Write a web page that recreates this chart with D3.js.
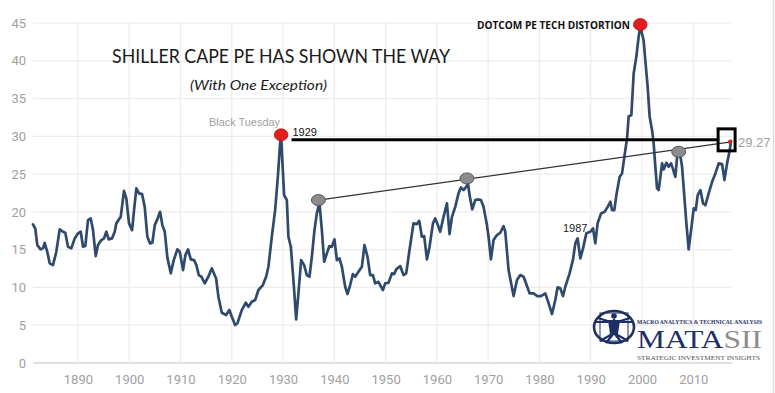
<!DOCTYPE html>
<html><head><meta charset="utf-8">
<script src="https://cdn.jsdelivr.net/npm/d3@7"></script>
<style>body{margin:0;background:#fff}svg{display:block}</style>
</head><body>
<svg id="c" width="775" height="393"></svg>
<script>
const capeYears = [1881.24,1881.69,1882.08,1882.74,1883.19,1883.52,1884.03,1884.50,1885.14,1885.79,1886.45,1887.09,1887.54,1888.07,1888.71,1889.38,1890.02,1890.55,1891.00,1891.44,1891.97,1892.50,1892.95,1893.47,1893.92,1894.57,1895.09,1895.54,1896.01,1896.65,1897.18,1897.49,1898.35,1898.99,1899.44,1899.97,1900.56,1900.95,1901.40,1901.92,1902.51,1903.03,1903.54,1904.07,1904.52,1904.99,1905.49,1906.02,1906.47,1906.94,1907.44,1908.11,1908.69,1909.40,1909.86,1910.51,1910.96,1911.48,1912.01,1912.65,1913.10,1913.57,1914.08,1914.74,1915.44,1916.11,1916.95,1917.40,1918.06,1918.90,1919.54,1920.01,1920.65,1921.10,1921.96,1922.74,1923.25,1923.91,1924.56,1925.20,1926.06,1926.70,1927.15,1927.81,1928.46,1928.99,1929.43,1929.63,1929.96,1930.21,1930.74,1931.05,1931.52,1932.03,1932.56,1933.00,1933.53,1934.12,1934.64,1935.15,1935.62,1936.13,1936.59,1937.10,1937.57,1938.02,1938.55,1939.05,1939.52,1940.03,1940.50,1941.00,1941.47,1942.12,1942.57,1943.09,1943.62,1944.07,1944.71,1945.38,1945.88,1946.47,1946.99,1947.52,1947.97,1948.61,1949.47,1949.92,1950.57,1951.23,1951.68,1952.07,1952.85,1953.49,1954.02,1954.66,1955.44,1956.11,1956.56,1957.08,1957.53,1958.06,1958.57,1959.23,1959.68,1960.32,1960.65,1961.30,1961.96,1962.47,1962.94,1963.58,1964.22,1964.69,1965.20,1965.73,1966.06,1966.37,1966.90,1967.48,1967.93,1968.59,1969.10,1969.76,1970.08,1970.54,1971.05,1971.71,1972.36,1973.00,1973.34,1973.98,1974.96,1975.62,1976.26,1976.91,1977.57,1978.08,1978.86,1979.52,1980.30,1981.14,1981.79,1982.45,1983.09,1983.54,1984.07,1984.59,1985.04,1985.88,1986.55,1987.00,1987.44,1987.97,1988.50,1989.14,1989.92,1990.45,1990.89,1991.34,1992.01,1992.71,1993.30,1993.82,1994.16,1994.60,1995.00,1995.64,1996.11,1996.56,1997.08,1997.40,1997.92,1998.37,1998.89,1999.34,1999.67,2000.00,2000.31,2000.64,2001.10,2001.49,2001.96,2002.27,2002.60,2002.93,2003.25,2003.58,2003.91,2004.22,2004.75,2005.20,2005.67,2006.06,2006.50,2006.84,2007.35,2007.81,2008.26,2008.65,2009.10,2009.57,2010.08,2010.47,2010.86,2011.39,2011.91,2012.36,2013.00,2013.67,2014.31,2014.96,2015.62,2016.07,2016.59,2017.10,2017.37];
const capeValues = [18.35,17.80,15.61,15.04,15.17,15.91,14.72,13.19,12.96,14.72,17.69,17.37,17.24,15.38,15.17,16.49,17.16,17.37,15.38,15.48,18.92,19.14,17.59,14.15,15.61,16.27,16.49,17.37,16.36,16.49,17.37,18.48,19.35,22.79,21.79,18.48,17.59,20.24,23.11,22.45,22.35,20.67,16.71,15.83,15.91,18.25,19.01,20.01,18.25,17.37,13.98,11.87,13.62,15.04,14.72,12.30,14.29,15.04,13.72,13.62,12.96,11.64,11.42,10.54,11.42,12.53,11.19,8.77,6.65,6.35,7.01,6.12,5.03,5.25,7.01,7.98,7.45,8.11,8.33,9.66,10.32,11.42,12.74,16.71,20.24,24.64,29.06,30.03,25.53,22.22,21.56,16.71,15.38,10.98,5.78,9.22,13.62,12.96,11.64,11.42,14.06,17.59,19.80,21.20,17.59,13.40,14.51,15.48,15.38,16.36,13.62,13.85,12.74,10.09,9.13,10.32,11.77,11.42,12.08,12.74,15.61,14.06,11.64,11.64,10.54,10.75,9.66,10.54,10.62,11.86,11.77,12.39,12.83,11.64,11.86,14.95,18.48,18.39,18.82,16.71,16.80,13.72,15.38,18.48,19.14,18.03,17.37,19.35,21.12,17.06,19.35,20.67,22.45,23.24,22.88,23.32,23.81,22.22,20.33,21.56,21.65,21.56,20.67,18.25,16.71,13.72,16.27,16.93,17.24,18.12,17.37,12.30,8.86,10.98,11.64,11.42,10.19,9.22,9.22,8.86,8.86,9.22,7.90,6.48,8.33,10.01,9.88,8.86,10.09,11.86,13.72,15.83,16.49,13.85,15.17,17.16,17.37,17.82,15.83,18.48,19.80,20.01,20.67,21.34,20.24,20.24,22.22,24.64,25.09,27.29,29.72,32.67,32.80,38.32,40.52,43.16,44.58,43.61,42.72,40.08,36.55,32.58,30.82,29.06,25.97,23.11,22.88,24.64,26.42,25.62,26.49,25.97,26.42,25.62,24.64,27.29,27.95,25.97,22.00,18.48,15.04,17.59,20.46,20.24,22.22,22.88,21.12,20.90,22.45,23.98,25.09,26.42,26.32,24.21,26.42,28.17,29.40];

const xTickYears = [1890,1900,1910,1920,1930,1940,1950,1960,1970,1980,1990,2000,2010];
const yTickValues = [0,5,10,15,20,25,30,35,40,45];

// annotation points [year, value]
const peakPoints = [[1929.63, 30.2], [1999.67, 44.8]];
const trendPoints = [[1936.9, 21.56], [1965.86, 24.43], [2007.15, 27.95]];
const trendEnd = [2017.37, 29.27];
const level1929 = 29.55;
const lastValueLabel = "29.27";

const svg = d3.select("#c");
const x = d3.scaleLinear().domain([1890, 2010]).range([77.9, 693.3]);
const y = d3.scaleLinear().domain([0, 45]).range([363, 23]);
const plotLeft = 33, plotRight = 732;

// right border
svg.append("line").attr("x1",773.5).attr("x2",773.5).attr("y1",0).attr("y2",393)
  .attr("stroke","#dcdcdc").attr("stroke-width",1.5);

// grid
const grid = svg.append("g");
grid.selectAll("line.h").data(yTickValues).join("line")
  .attr("x1", plotLeft).attr("x2", plotRight)
  .attr("y1", d => y(d)).attr("y2", d => y(d))
  .attr("stroke", d => d === 0 ? "#d4d4d4" : "#ececec").attr("stroke-width", d => d===0?1.5:1.2);
grid.selectAll("line.v").data(xTickYears).join("line")
  .attr("x1", d => x(d)).attr("x2", d => x(d))
  .attr("y1", y(45)).attr("y2", y(0))
  .attr("stroke", "#ececec").attr("stroke-width", 1.2);

// axes labels via d3 axes
const yAxis = svg.append("g").attr("transform", `translate(${plotLeft - 7},0)`)
  .call(d3.axisLeft(y).tickValues(yTickValues).tickSize(0).tickPadding(0));
const xAxis = svg.append("g").attr("transform", `translate(0,${y(0)+12})`)
  .call(d3.axisBottom(x).tickValues(xTickYears).tickFormat(d3.format("d")).tickSize(0).tickPadding(0));
[yAxis, xAxis].forEach(a => {
  a.select(".domain").remove();
  a.selectAll("text").attr("fill", "#a0a0a0")
    .style("font-family", "'Liberation Sans Narrow','Arial Narrow','Roboto',sans-serif")
    .style("font-size", "13px");
});

// title
svg.append("text").attr("x", 112).attr("y", 63).text("SHILLER CAPE PE HAS SHOWN THE WAY")
  .attr("textLength", 338).attr("lengthAdjust", "spacingAndGlyphs")
  .style("font-family", "Lato, 'Open Sans', sans-serif").style("font-size", "18.5px").attr("fill", "#1a1a1a");
svg.append("text").attr("x", 190).attr("y", 90).text("(With One Exception)")
  .attr("textLength", 137).attr("lengthAdjust", "spacingAndGlyphs")
  .style("font-family", "Lato, 'Open Sans', sans-serif").style("font-style", "italic")
  .style("font-size", "14px").attr("fill", "#1a1a1a");

// main line
const line = d3.line().x((d,i) => x(capeYears[i])).y(d => y(d)).curve(d3.curveLinear);
svg.append("path").datum(capeValues).attr("d", line)
  .attr("fill", "none").attr("stroke", "#2f4a6d").attr("stroke-width", 2.7)
  .attr("stroke-linejoin", "round").attr("stroke-linecap", "round");

// trend line
svg.append("line")
  .attr("x1", x(trendPoints[0][0])).attr("y1", y(trendPoints[0][1]))
  .attr("x2", x(trendEnd[0])).attr("y2", y(trendEnd[1]))
  .attr("stroke", "#333").attr("stroke-width", 1.2);

// 1929 level line
svg.append("line").attr("x1", 291.5).attr("x2", x(trendEnd[0]) - 12)
  .attr("y1", y(level1929)).attr("y2", y(level1929))
  .attr("stroke", "#000").attr("stroke-width", 3.2);

// box at end
svg.append("rect").attr("x", x(trendEnd[0]) - 13).attr("y", y(trendEnd[1]) - 13)
  .attr("width", 17).attr("height", 22).attr("fill", "none")
  .attr("stroke", "#000").attr("stroke-width", 3);
svg.append("circle").attr("cx", x(trendEnd[0]) - 1).attr("cy", y(trendEnd[1])).attr("r", 2.2).attr("fill", "#e0201f");
svg.append("text").attr("x", 738).attr("y", y(trendEnd[1]) + 5).text(lastValueLabel)
  .style("font-family", "'Liberation Sans Narrow','Arial Narrow',sans-serif").style("font-size", "13px").attr("fill", "#a0a0a0");

// gray ellipses
svg.selectAll("ellipse.g").data(trendPoints).join("ellipse")
  .attr("cx", d => x(d[0])).attr("cy", d => y(d[1])).attr("rx", 7).attr("ry", 5.5)
  .attr("fill", "#8c8c8c").attr("stroke", "#555").attr("stroke-width", 1);

// red peaks
svg.selectAll("ellipse.r").data(peakPoints).join("ellipse")
  .attr("cx", d => x(d[0])).attr("cy", d => y(d[1])).attr("rx", 6.8).attr("ry", 6)
  .attr("fill", "#e21d1d").attr("stroke", "#c01010").attr("stroke-width", 0.8);

// annotation texts
svg.append("text").attr("x", 209).attr("y", 126).text("Black Tuesday")
  .attr("textLength", 71).attr("lengthAdjust", "spacingAndGlyphs")
  .style("font-family", "'Liberation Sans','Roboto',sans-serif").style("font-size", "11.5px").attr("fill", "#a0a0a0");
svg.append("text").attr("x", 292.5).attr("y", 135.5).text("1929")
  .style("font-family", "'Liberation Sans','Roboto',sans-serif").style("font-size", "11px").attr("fill", "#111");
svg.append("text").attr("x", 477).attr("y", 29).text("DOTCOM PE TECH DISTORTION")
  .attr("textLength", 153).attr("lengthAdjust", "spacingAndGlyphs")
  .style("font-family", "'Open Sans','Liberation Sans',sans-serif").style("font-weight", "bold")
  .style("font-size", "11px").attr("fill", "#111");
svg.append("text").attr("x", 563).attr("y", 232).text("1987")
  .style("font-family", "'Liberation Sans','Roboto',sans-serif").style("font-size", "11px").attr("fill", "#222");

// logo
const logo = svg.append("g");
const navy = "#1f2f63";
logo.append("ellipse").attr("cx", 614).attr("cy", 327).attr("rx", 20).attr("ry", 16)
  .attr("fill", "none").attr("stroke", navy).attr("stroke-width", 2.6);
logo.append("rect").attr("x", 600).attr("y", 313).attr("width", 28).attr("height", 28)
  .attr("fill", "none").attr("stroke", navy).attr("stroke-width", 1);
logo.append("circle").attr("cx", 614).attr("cy", 316).attr("r", 2.8).attr("fill", navy);
logo.append("path").attr("d", "M596,322 L632,322 M614,319 L614,333 M614,333 L606,343 M614,333 L622,343 M614,333 L600,341 M614,333 L628,341 M598,318 L614,323 L630,318")
  .attr("stroke", navy).attr("stroke-width", 2.2).attr("fill", "none");
logo.append("path").attr("d", "M608,320 L620,320 L618,334 L610,334 Z").attr("fill", navy);
logo.append("text").attr("x", 637).attr("y", 323.5).text("MACRO ANALYTICS & TECHNICAL ANALYSIS")
  .attr("textLength", 125).attr("lengthAdjust", "spacingAndGlyphs")
  .style("font-family", "'Liberation Serif','DejaVu Serif',serif").style("font-weight", "bold")
  .style("font-size", "5.5px").attr("fill", navy);
const mt = logo.append("text").attr("x", 637).attr("y", 348)
  .attr("textLength", 125).attr("lengthAdjust", "spacingAndGlyphs")
  .style("font-family", "'Liberation Serif','DejaVu Serif',serif").style("font-size", "25px");
mt.append("tspan").text("MATA").attr("fill", navy);
mt.append("tspan").text("SII").attr("fill", "#8d8d8d");
logo.append("text").attr("x", 637).attr("y", 359.5).text("STRATEGIC INVESTMENT INSIGHTS")
  .attr("textLength", 123).attr("lengthAdjust", "spacingAndGlyphs")
  .style("font-family", "'Liberation Serif','DejaVu Serif',serif")
  .style("font-size", "6.5px").attr("fill", "#555");
</script>
</body></html>
